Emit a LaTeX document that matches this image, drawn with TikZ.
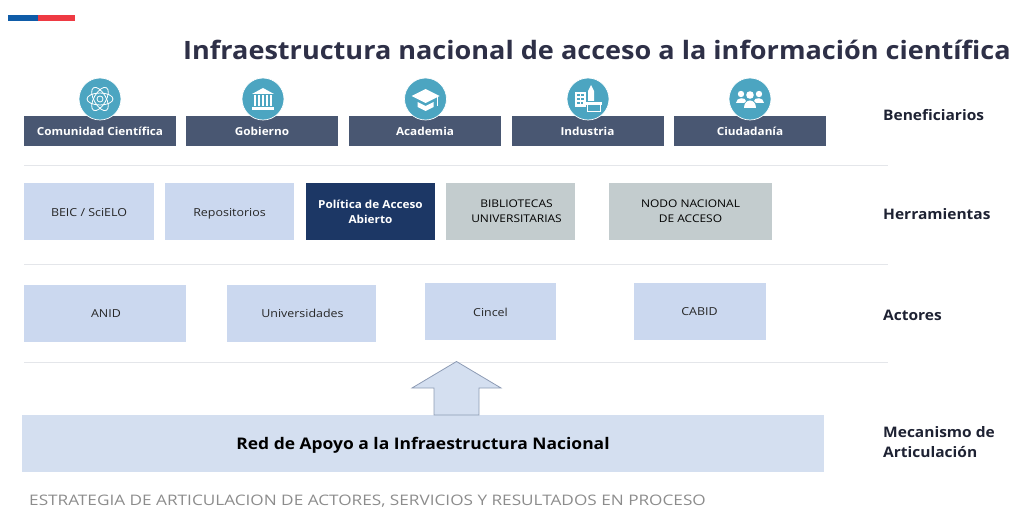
\documentclass[tikz,border=0pt]{standalone}
\usepackage{fontspec}
\setmainfont{Open Sans}[FakeStretch=1.07]
\newfontfamily\toolfont{Open Sans}[FakeStretch=1.13]
\newfontfamily\footfont{Open Sans}[FakeStretch=1.185]
\newfontfamily\barfont{Open Sans}[FakeStretch=1.09]
\usetikzlibrary{positioning}
\definecolor{navy}{HTML}{495772}
\definecolor{teal}{HTML}{4CA5C1}
\definecolor{pale}{HTML}{CBD8EF}
\definecolor{palebar}{HTML}{D4DFF0}
\definecolor{greybox}{HTML}{C3CCCE}
\definecolor{deep}{HTML}{1C3765}
\definecolor{rulec}{HTML}{E4E6EA}
\definecolor{titlec}{HTML}{2E3047}
\definecolor{labelc}{HTML}{1E2233}
\definecolor{arrowc}{HTML}{8D9BB4}
\definecolor{flagblue}{HTML}{0F5CA8}
\definecolor{flagred}{HTML}{EE3A43}
\tikzset{
 x=1pt,y=-1pt,
 benef/.style={fill=navy,draw=none,minimum width=152pt,minimum height=30pt,inner sep=0pt,text=white,font=\fontsize{11}{13}\selectfont\bfseries},
 ico/.style={circle,fill=teal,draw=white,line width=.7pt,minimum size=42pt,inner sep=0pt},
 tool/.style={fill=pale,draw=none,inner sep=0pt,align=center,text=black!85,font=\toolfont\fontsize{11}{15}\selectfont,minimum height=57pt,text depth=0pt},
 toolcaps/.style={tool,fill=greybox,text=black,font=\toolfont\fontsize{10.6}{15}\selectfont},
 side/.style={anchor=west,inner sep=0pt,align=left,text=labelc,font=\fontsize{14.5}{20}\selectfont\bfseries},
 sep/.style={draw=rulec,line width=.8pt},
 glyph/.style={draw=white,line width=.8pt,fill=none},
 glyphfill/.style={fill=white,draw=none},
}
\begin{document}
\begin{tikzpicture}
\useasboundingbox (0,0) rectangle (1013,508);
% flag
\fill[fill=flagblue] (8,15.5) rectangle (37.5,21.5);
\fill[fill=flagred] (37.5,15.5) rectangle (74.5,21.5);
\node[anchor=west,inner sep=0pt,text=titlec,font=\fontsize{25.3}{30}\selectfont\bfseries] (title) at (183,50) {Infraestructura nacional de acceso a la información científica};
% separators
\coordinate (s1a) at (24,165); \coordinate (s1b) at (888,165);
\coordinate (s2a) at (24,264); \coordinate (s2b) at (888,264);
\coordinate (s3a) at (24,362); \coordinate (s3b) at (888,362);
\draw[sep] (s1a)--(s1b); \draw[sep] (s2a)--(s2b); \draw[sep] (s3a)--(s3b);
% beneficiaries
\node[benef] (b1) at (100,131) {Comunidad Científica};
\node[benef] (b2) at (262,131) {Gobierno};
\node[benef] (b3) at (425,131) {Academia};
\node[benef] (b4) at (587.5,131) {Industria};
\node[benef] (b5) at (750,131) {Ciudadanía};
\node[ico] (i1) at (100,99) {};
\node[ico] (i2) at (263,99) {};
\node[ico] (i3) at (425.5,99) {};
\node[ico] (i4) at (588,99) {};
\node[ico] (i5) at (750,99) {};
% atom
\begin{scope}[shift={(i1.center)}]
 \draw[glyph] (0,0) ellipse [x radius=13,y radius=6];
 \draw[glyph,rotate=60] (0,0) ellipse [x radius=13,y radius=6];
 \draw[glyph,rotate=-60] (0,0) ellipse [x radius=13,y radius=6];
 \draw[glyph] (0,0) circle (3);
\end{scope}
% temple
\begin{scope}[shift={(i2.center)}]
 \fill[glyphfill] (-11,-5)--(0,-11)--(11,-5)--cycle;
 \foreach \k in {-9,-5,-1,3,7} \fill[glyphfill] (\k,-4) rectangle (\k+2.2,7);
 \fill[glyphfill] (-11,8) rectangle (11,11);
\end{scope}
% cap
\begin{scope}[shift={(i3.center)}]
 \fill[glyphfill] (-14,-3)--(0,-10)--(14,-3)--(0,4)--cycle;
 \fill[glyphfill] (-8,3)--(0,7)--(8,3)--(8,8)--(0,12)--(-8,8)--cycle;
 \draw[draw=white,line width=.8pt] (12,-2)--(12,7);
\end{scope}
% buildings
\begin{scope}[shift={(i4.center)}]
 \fill[glyphfill] (-13,-7) rectangle (-2,8);
 \foreach \r in {-5,-1,3} \foreach \c in {-11,-7} \fill[fill=teal] (\c,\r) rectangle (\c+2.5,\r+2);
 \fill[glyphfill] (0,2)--(0,-8)--(3,-14)--(6,-8)--(6,2)--cycle;
 \fill[glyphfill] (-5,3) rectangle (14,6);
 \draw[draw=white,line width=1pt] (-1,6) rectangle (12,13);
\end{scope}
% people
\begin{scope}[shift={(i5.center)}]
 \fill[glyphfill] (-9,-5) circle (3.2);
 \fill[glyphfill] (9,-5) circle (3.2);
 \fill[glyphfill] (0,-4) circle (3.8);
 \fill[glyphfill] (-14,4) .. controls (-14,-2) and (-4,-2) .. (-4,2) -- (-6,4) -- cycle;
 \fill[glyphfill] (14,4) .. controls (14,-2) and (4,-2) .. (4,2) -- (6,4) -- cycle;
 \fill[glyphfill] (-6,9) .. controls (-6,-1) and (6,-1) .. (6,9) -- cycle;
\end{scope}
% tools
\node[tool,minimum width=130pt,text height=9pt] (t1) at (89,211.5) {\raisebox{-1pt}{BEIC / SciELO}};
\node[tool,minimum width=129pt] (t2) at (229.5,211.5) {\raisebox{-1pt}{Repositorios}};
\node[tool,minimum width=129pt,fill=deep,text=white,font=\fontsize{11}{15}\selectfont\bfseries] (t3) at (370.5,211.5) {Política de Acceso\\Abierto};
\node[toolcaps,minimum width=129pt] (t4) at (510.5,211.5) {\hspace*{12pt}BIBLIOTECAS\\\hspace*{12pt}UNIVERSITARIAS};
\node[toolcaps,minimum width=163pt] (t5) at (690.5,211.5) {NODO NACIONAL\\DE ACCESO};
% actors
\node[tool,minimum width=162pt] (a1) at (105,313.5) {\hspace*{2pt}\raisebox{-1pt}{ANID}};
\node[tool,minimum width=149pt] (a2) at (301.5,313) {\hspace*{2pt}\raisebox{-1pt}{Universidades}};
\node[tool,minimum width=131pt] (a3) at (490.5,311.5) {\raisebox{-1pt}{Cincel}};
\node[tool,minimum width=132pt] (a4) at (699.5,311.5) {\raisebox{-1pt}{CABID}};
% bar and arrow
\node[fill=palebar,draw=none,inner sep=0pt,minimum width=802pt,minimum height=57pt,text=black,font=\barfont\fontsize{16}{20}\selectfont\bfseries,text depth=0pt] (bar) at (423,443.5) {Red de Apoyo a la Infraestructura Nacional};
\draw[draw=arrowc,fill=palebar,line width=.8pt,line join=miter] (434,415)--(434,388)--(412,388)--(456.5,361.5)--(501,388)--(479,388)--(479,415)--cycle;
% side labels
\node[side] (l1) at (883,115) {Beneficiarios};
\node[side] (l2) at (883,214) {Herramientas};
\node[side] (l3) at (883,315) {Actores};
\node[side] (l4) at (883,442) {Mecanismo de\\Articulación};
\node[anchor=west,inner sep=0pt,text=black!45,font=\footfont\fontsize{14.5}{18}\selectfont] (foot) at (29,501) {ESTRATEGIA DE ARTICULACION DE ACTORES, SERVICIOS Y RESULTADOS EN PROCESO};
\end{tikzpicture}
\end{document}
